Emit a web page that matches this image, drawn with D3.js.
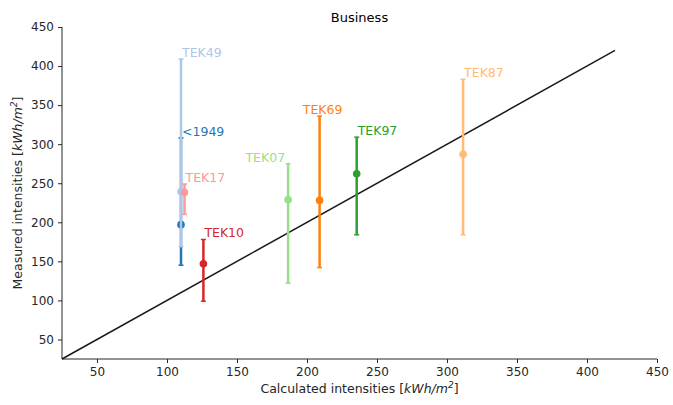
<!DOCTYPE html>
<html>
<head>
<meta charset="utf-8">
<script src="https://cdn.jsdelivr.net/npm/d3@7"></script>
<style>
  body { margin: 0; background: #fff; }
  svg { display: block; font-family: "DejaVu Sans", sans-serif; }
</style>
</head>
<body>
<svg id="chart" width="673" height="405"></svg>
<script>
// Building-code periods: calculated vs measured energy intensity
const periods    = ["<1949", "TEK49", "TEK17", "TEK10", "TEK07", "TEK69", "TEK97", "TEK87"];
const calculated = [110, 110, 112.5, 126, 186.5, 209, 235.5, 311.5];
const measured   = [197, 239, 238, 147, 229, 228, 262, 287];
const lowErr     = [145, 169, 210, 99, 122, 142, 184, 184];
const highErr    = [308, 409, 249, 178, 275, 336, 309, 383];
const colors     = ["#1f77b4", "#aec7e8", "#ff9896", "#d62728", "#98df8a", "#ff7f0e", "#2ca02c", "#ffbb78"];
const labelAnchor = ["start", "start", "start", "start", "end", "middle", "start", "start"];
const xTicks = [50, 100, 150, 200, 250, 300, 350, 400, 450];
const yTicks = [50, 100, 150, 200, 250, 300, 350, 400, 450];
const diagonal = [25, 420];

const svg = d3.select("#chart");
const margin = { left: 62, right: 16, top: 27, bottom: 46 };
const W = 673, H = 405;

const x = d3.scaleLinear().domain([25, 450]).range([margin.left, W - margin.right]);
const y = d3.scaleLinear().domain([25, 450]).range([H - margin.bottom, margin.top]);

// axes
const xAxis = svg.append("g")
  .attr("transform", `translate(0,${H - margin.bottom})`)
  .call(d3.axisBottom(x).tickValues(xTicks).tickSize(4).tickPadding(4));
const yAxis = svg.append("g")
  .attr("transform", `translate(${margin.left},0)`)
  .call(d3.axisLeft(y).tickValues(yTicks).tickSize(4).tickPadding(4));
[xAxis, yAxis].forEach(a => {
  a.selectAll("text").attr("font-size", 12).attr("fill", "#262626").attr("font-family", "DejaVu Sans, sans-serif");
  a.selectAll("line").attr("stroke", "#262626");
  a.select(".domain").attr("stroke", "#262626").attr("d", null);
});
xAxis.select(".domain").remove();
yAxis.select(".domain").remove();
svg.append("line").attr("x1", margin.left).attr("x2", W - margin.right)
  .attr("y1", H - margin.bottom).attr("y2", H - margin.bottom).attr("stroke", "#262626").attr("stroke-width", 1);
svg.append("line").attr("x1", margin.left).attr("x2", margin.left)
  .attr("y1", margin.top).attr("y2", H - margin.bottom).attr("stroke", "#262626").attr("stroke-width", 1);

// y = x reference line
svg.append("line")
  .attr("x1", x(diagonal[0])).attr("y1", y(diagonal[0]))
  .attr("x2", x(diagonal[1])).attr("y2", y(diagonal[1]))
  .attr("stroke", "#1a1a1a").attr("stroke-width", 1.5);

// error bars, markers and labels
const data = periods.map((p, i) => ({
  p, cx: calculated[i], m: measured[i], lo: lowErr[i], hi: highErr[i], c: colors[i], a: labelAnchor[i]
}));

const g = svg.append("g");
data.forEach(d => {
  const px = x(d.cx);
  g.append("line").attr("x1", px).attr("x2", px).attr("y1", y(d.lo)).attr("y2", y(d.hi))
    .attr("stroke", d.c).attr("stroke-width", 2.5);
  [d.lo, d.hi].forEach(v => {
    g.append("line").attr("x1", px - 2.5).attr("x2", px + 2.5).attr("y1", y(v)).attr("y2", y(v))
      .attr("stroke", d.c).attr("stroke-width", 1.5);
  });
  g.append("circle").attr("cx", px).attr("cy", y(d.m)).attr("r", 3.8).attr("fill", d.c);
  const dx = d.a === "start" ? 1 : (d.a === "end" ? -3 : 3);
  g.append("text").attr("x", px + dx).attr("y", y(d.hi) - 2)
    .attr("text-anchor", d.a).attr("font-size", 12.5).attr("fill", d.c).text(d.p);
});

// title and axis labels
svg.append("text").attr("x", (margin.left + W - margin.right) / 2).attr("y", 22)
  .attr("text-anchor", "middle").attr("font-size", 13).attr("fill", "#000").text("Business");

const xl = svg.append("text").attr("x", (margin.left + W - margin.right) / 2).attr("y", 393)
  .attr("text-anchor", "middle").attr("font-size", 12.5).attr("fill", "#262626");
xl.append("tspan").text("Calculated intensities [");
xl.append("tspan").attr("font-style", "italic").text("kWh/m");
xl.append("tspan").attr("font-style", "italic").attr("font-size", 9).attr("dy", -5).text("2");
xl.append("tspan").attr("dy", 5).text("]");

const yl = svg.append("text")
  .attr("transform", `translate(22,${(margin.top + H - margin.bottom) / 2}) rotate(-90)`)
  .attr("text-anchor", "middle").attr("font-size", 12.5).attr("fill", "#262626");
yl.append("tspan").text("Measured intensities [");
yl.append("tspan").attr("font-style", "italic").text("kWh/m");
yl.append("tspan").attr("font-style", "italic").attr("font-size", 9).attr("dy", -5).text("2");
yl.append("tspan").attr("dy", 5).text("]");
</script>
</body>
</html>
